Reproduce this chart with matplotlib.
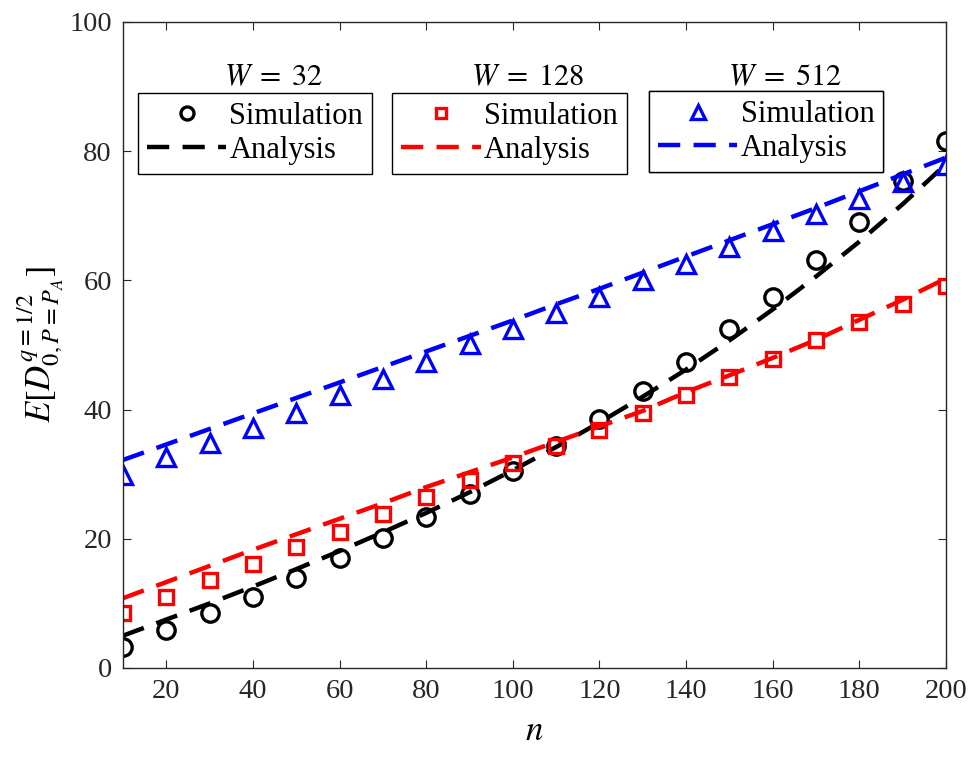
import matplotlib
matplotlib.use('Agg')
import matplotlib.pyplot as plt

plt.rcParams['font.family'] = ['Liberation Serif', 'DejaVu Serif']
plt.rcParams['mathtext.fontset'] = 'stix'

n = [10, 20, 30, 40, 50, 60, 70, 80, 90, 100,
     110, 120, 130, 140, 150, 160, 170, 180, 190, 200]

# W = 32
sim_32 = [3.3, 5.9, 8.5, 11.0, 13.9, 17.0, 20.1, 23.4, 27.0, 30.5,
          34.3, 38.5, 42.9, 47.4, 52.4, 57.5, 63.1, 69.0, 75.4, 81.6]
ana_32 = [5.0, 7.5, 10.0, 12.6, 15.3, 18.1, 21.0, 24.0, 27.2, 30.6,
          34.2, 38.0, 42.0, 46.2, 50.7, 55.5, 60.6, 66.0, 71.8, 78.0]

# W = 128
sim_128 = [8.5, 11.0, 13.6, 16.1, 18.7, 21.1, 23.9, 26.4, 29.1, 31.8,
           34.3, 36.9, 39.5, 42.2, 45.1, 47.9, 50.7, 53.6, 56.3, 59.2]
ana_128 = [10.8, 13.3, 15.8, 18.3, 20.7, 23.1, 25.5, 28.0, 30.3, 32.6,
           35.0, 37.4, 39.8, 42.7, 45.3, 48.0, 50.8, 53.9, 57.0, 60.3]

# W = 512
sim_512 = [29.9, 32.6, 34.9, 37.2, 39.5, 42.3, 44.8, 47.3, 50.2, 52.4,
           54.9, 57.4, 60.0, 62.6, 65.1, 67.6, 70.2, 72.6, 75.2, 77.8]
ana_512 = [32.2, 34.6, 37.0, 39.4, 41.8, 44.2, 46.6, 49.0, 51.4, 53.8,
           56.3, 58.7, 61.2, 63.7, 66.2, 68.7, 71.2, 73.8, 76.4, 79.0]

groups = [
    (r'$W\;=\;32$', sim_32, ana_32, 'k', 'o', 12.5),
    (r'$W\;=\;128$', sim_128, ana_128, 'r', 's', 10.5),
    (r'$W\;=\;512$', sim_512, ana_512, 'b', '^', 13),
]
legend_pos = [(0.018, 0.890), (0.327, 0.890), (0.639, 0.893)]

fig = plt.figure(figsize=(9.79, 7.65), dpi=100)
ax = fig.add_axes([0.1256, 0.1268, 0.8407, 0.8445])

for (title, sim, ana, col, mk, ms), (lx, ly) in zip(groups, legend_pos):
    h1, = ax.plot(n, sim, linestyle='none', marker=mk, markersize=ms,
                  markerfacecolor='none', markeredgecolor=col, markeredgewidth=2.4)
    h2, = ax.plot(n, ana, color=col, linewidth=3.2, linestyle=(0, (5, 3)))
    leg = ax.legend([h1, h2], ['Simulation', 'Analysis'], loc='upper left',
                    bbox_to_anchor=(lx, ly), fontsize=22, frameon=True,
                    fancybox=False, edgecolor='k', framealpha=1,
                    handlelength=2.6, handletextpad=0.1, borderpad=0.3,
                    labelspacing=0.15, borderaxespad=0, markerscale=0.75)
    leg.get_frame().set_linewidth(1.0)
    ax.add_artist(leg)
    ax.text(lx + 0.165, 0.913, title, transform=ax.transAxes,
            fontsize=22, ha='center', va='center')

ax.set_xlim(10, 200)
ax.set_ylim(0, 100)
ax.set_xticks(range(20, 201, 20))
ax.set_yticks(range(0, 101, 20))
ax.tick_params(direction='in', top=True, right=True, labelsize=20.5,
               length=6, colors='#262626', pad=8)
for sp in ax.spines.values():
    sp.set_color('#262626')
    sp.set_linewidth(1.0)

ax.set_xlabel('$n$', fontsize=25, labelpad=8)
ax.set_ylabel(r'$E[D_{0,P=P_A}^{q=1/2}]$', fontsize=25, labelpad=2)

fig.savefig('out.png', dpi=100)
